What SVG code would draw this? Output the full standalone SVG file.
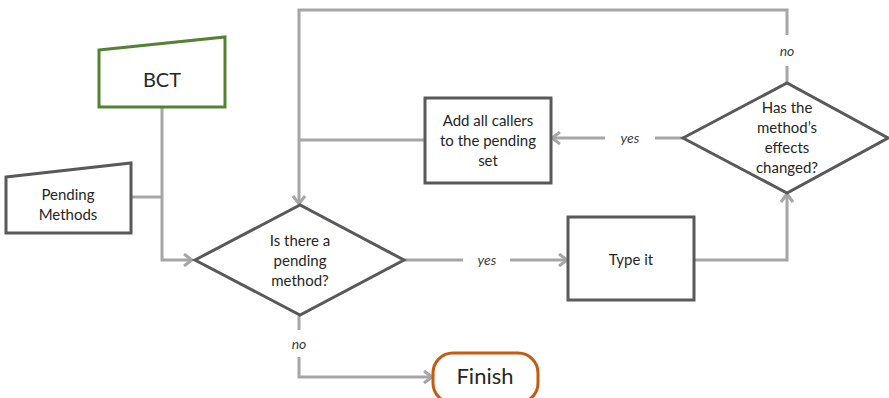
<svg xmlns="http://www.w3.org/2000/svg" width="889" height="398" viewBox="0 0 889 398">
<defs>
<style>
.node{fill:#fff;stroke:#595959;stroke-width:3}
.conn{fill:none;stroke:#A6A6A6;stroke-width:3}
.t{font-family:Lato,"Open Sans",sans-serif;font-size:15px;fill:#262626;text-anchor:middle}
.lbl{font-family:Lato,"Open Sans",sans-serif;font-size:14px;font-style:italic;fill:#404040;text-anchor:middle}
</style>
<marker id="ah" markerWidth="14" markerHeight="14" refX="11" refY="7" orient="auto" markerUnits="userSpaceOnUse">
<path d="M3,1 L11,7 L3,13" fill="none" stroke="#A6A6A6" stroke-width="3"/>
</marker>
</defs>
<rect width="889" height="398" fill="#fff"/>
<g id="connectors">
<path class="conn" d="M162,107 V260 H192" marker-end="url(#ah)"/>
<path class="conn" d="M131,197 H162"/>
<path class="conn" d="M787,35 V10 H299 V204" marker-end="url(#ah)"/>
<path class="conn" d="M787,66 V83"/>
<path class="conn" d="M424,140 H299"/>
<path class="conn" d="M683,138 H655"/>
<path class="conn" d="M605,138 H552" marker-end="url(#ah)"/>
<path class="conn" d="M404,260 H463"/>
<path class="conn" d="M510,260 H567" marker-end="url(#ah)"/>
<path class="conn" d="M694,260 H787 V194" marker-end="url(#ah)"/>
<path class="conn" d="M299,316 V330"/>
<path class="conn" d="M299,357 V377 H432" marker-end="url(#ah)"/>
<text class="lbl" x="787" y="56">no</text>
<text class="lbl" x="630" y="143">yes</text>
<text class="lbl" x="487" y="265">yes</text>
<text class="lbl" x="299" y="349">no</text>
</g>
<g id="bct">
<path d="M99,50 L225,37 L225,107 L99,107 Z" fill="#fff" stroke="#548235" stroke-width="3"/>
<text class="t" x="162" y="87" style="font-size:20px">BCT</text>
</g>
<g id="pending-methods">
<path class="node" d="M6,177 L131,163 L131,233 L6,233 Z"/>
<text class="t" x="68" y="200">Pending</text>
<text class="t" x="68" y="220">Methods</text>
</g>
<g id="is-pending">
<path class="node" d="M195,260 L300,205 L404,260 L300,315 Z"/>
<text class="t" x="300" y="246">Is there a</text>
<text class="t" x="300" y="266">pending</text>
<text class="t" x="300" y="286">method?</text>
</g>
<g id="add-callers">
<rect class="node" x="425" y="98" width="126" height="85"/>
<text class="t" x="488" y="126">Add all callers</text>
<text class="t" x="488" y="146">to the pending</text>
<text class="t" x="488" y="166">set</text>
</g>
<g id="effects-changed">
<path class="node" d="M683,138 L787,83 L888,138 L787,193 Z"/>
<text class="t" x="787" y="113">Has the</text>
<text class="t" x="787" y="133">method’s</text>
<text class="t" x="787" y="153">effects</text>
<text class="t" x="787" y="173">changed?</text>
</g>
<g id="type-it">
<rect class="node" x="568" y="217" width="126" height="83"/>
<text class="t" x="631" y="265">Type it</text>
</g>
<g id="finish">
<rect x="433" y="353" width="105" height="50" rx="20" ry="20" fill="#fff" stroke="#C55A11" stroke-width="3"/>
<text class="t" x="485" y="384" style="font-size:22px">Finish</text>
</g>
</svg>
